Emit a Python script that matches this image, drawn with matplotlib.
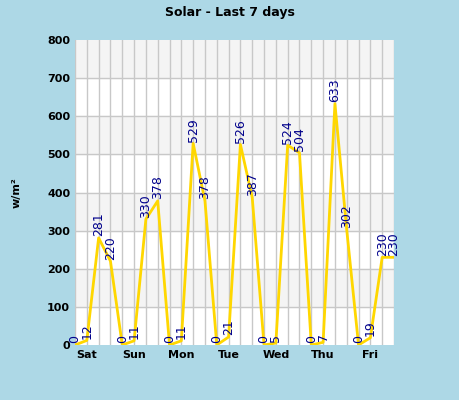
import matplotlib
matplotlib.use("Agg")
import matplotlib.pyplot as plt

values = [0, 12, 281, 220, 0, 11, 330, 378, 0, 11, 529, 378, 0, 21, 526, 387,
          0, 5, 524, 504, 0, 7, 633, 302, 0, 19, 230, 230]
days = ["Sat", "Sun", "Mon", "Tue", "Wed", "Thu", "Fri"]

fig = plt.figure(figsize=(4.6, 4.0), dpi=100, facecolor="#add8e6")
ax = fig.add_axes([75/460, 55/400, 319/460, 305/400])
ax.set_facecolor("white")
x = list(range(len(values)))
ax.set_xlim(0, len(values) - 1)
ax.set_ylim(0, 800)
for b in range(100, 800, 200):
    ax.axhspan(b, b + 100, color="#f4f4f4", zorder=0)
for xi in x:
    ax.axvline(xi, color="#c8c8c8", lw=1, zorder=1)
for y in range(100, 800, 100):
    ax.axhline(y, color="#c8c8c8", lw=1, zorder=1)
ax.plot(x, values, color="#ffd700", lw=2, zorder=3)
for xi, v in zip(x, values):
    ax.text(xi, v + 4, str(v), rotation=90, ha="center", va="bottom",
            color="#00008b", fontsize=9, zorder=4, clip_on=False)
ax.set_xticks([1 + 4 * i for i in range(len(days))])
ax.set_xticklabels(days, fontsize=8, fontweight="bold")
ax.set_yticks(range(0, 801, 100))
ax.tick_params(axis="y", labelsize=8, length=0)
for lbl in ax.get_yticklabels():
    lbl.set_fontweight("bold")
ax.tick_params(axis="x", length=0)
for s in ax.spines.values():
    s.set_visible(False)
ax.set_ylabel("w/m²", fontsize=8, fontweight="bold", labelpad=18)
fig.suptitle("Solar - Last 7 days", fontsize=9, fontweight="bold", y=0.985)
fig.savefig("out.png", dpi=100, facecolor=fig.get_facecolor())
